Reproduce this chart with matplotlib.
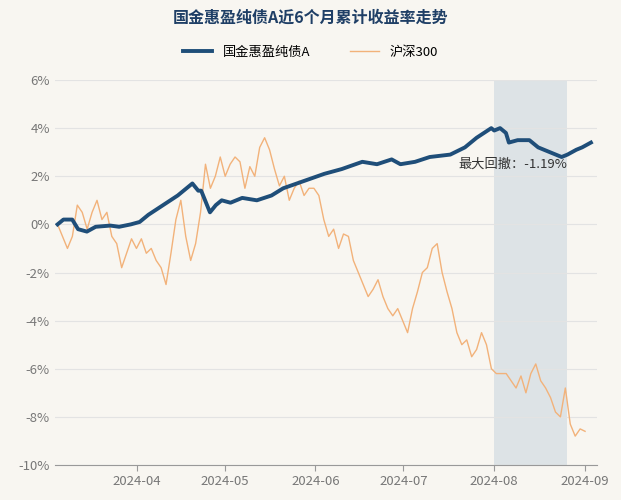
import matplotlib.pyplot as plt
import matplotlib.dates as mdates
import pandas as pd

plt.rcParams["font.family"] = ["Noto Sans CJK SC", "DejaVu Sans"]

fund_dates = ["2024-03-05", "2024-03-07", "2024-03-10", "2024-03-12", "2024-03-15", "2024-03-18",
              "2024-03-23", "2024-03-26", "2024-03-30", "2024-04-02", "2024-04-05", "2024-04-10",
              "2024-04-15", "2024-04-20", "2024-04-22", "2024-04-23", "2024-04-26", "2024-04-28",
              "2024-04-30", "2024-05-03", "2024-05-07", "2024-05-12", "2024-05-17", "2024-05-21",
              "2024-05-28", "2024-06-04", "2024-06-10", "2024-06-17", "2024-06-22", "2024-06-27",
              "2024-06-30", "2024-07-05", "2024-07-10", "2024-07-17", "2024-07-22", "2024-07-26",
              "2024-07-31", "2024-08-01", "2024-08-03", "2024-08-05", "2024-08-06", "2024-08-09",
              "2024-08-13", "2024-08-16", "2024-08-20", "2024-08-24", "2024-08-26", "2024-08-29",
              "2024-08-31", "2024-09-03"]
fund = [0.0, 0.2, 0.2, -0.2, -0.3, -0.1, -0.05, -0.1, 0.0, 0.1, 0.4, 0.8, 1.2, 1.7, 1.4, 1.4,
        0.5, 0.8, 1.0, 0.9, 1.1, 1.0, 1.2, 1.5, 1.8, 2.1, 2.3, 2.6, 2.5, 2.7, 2.5, 2.6, 2.8, 2.9,
        3.2, 3.6, 4.0, 3.9, 4.0, 3.8, 3.4, 3.5, 3.5, 3.2, 3.0, 2.8, 2.9, 3.1, 3.2, 3.4]

csi300 = [0, -0.5, -1.0, -0.5, 0.8, 0.5, -0.2, 0.5, 1.0, 0.2, 0.5, -0.5, -0.8, -1.8, -1.2, -0.6,
          -1.0, -0.6, -1.2, -1.0, -1.5, -1.8, -2.5, -1.2, 0.2, 1.0, -0.5, -1.5, -0.8, 0.5, 2.5, 1.5,
          2.0, 2.8, 2.0, 2.5, 2.8, 2.6, 1.5, 2.4, 2.0, 3.2, 3.6, 3.1, 2.3, 1.6, 2.0, 1.0, 1.5, 1.8,
          1.2, 1.5, 1.5, 1.2, 0.2, -0.5, -0.2, -1.0, -0.4, -0.5, -1.5, -2.0, -2.5, -3.0, -2.7, -2.3,
          -3.0, -3.5, -3.8, -3.5, -4.0, -4.5, -3.5, -2.8, -2.0, -1.8, -1.0, -0.8, -2.0, -2.8, -3.5,
          -4.5, -5.0, -4.8, -5.5, -5.2, -4.5, -5.0, -6.0, -6.2, -6.2, -6.2, -6.5, -6.8, -6.3, -7.0,
          -6.2, -5.8, -6.5, -6.8, -7.2, -7.8, -8.0, -6.8, -8.3, -8.8, -8.5, -8.6]
csi_dates = pd.date_range("2024-03-05", "2024-09-01", periods=len(csi300))

dd_start, dd_end = "2024-08-01", "2024-08-26"
dd_label = "最大回撤：-1.19%"
yticks = [6, 4, 2, 0, -2, -4, -6, -8, -10]
bg = "#f8f6f1"

fig = plt.figure(figsize=(6.21, 5.0), dpi=100, facecolor=bg)
ax = fig.add_axes([0.088, 0.07, 0.873, 0.77], facecolor=bg)

ax.axvspan(pd.Timestamp(dd_start), pd.Timestamp(dd_end), color="#dde3e6", lw=0)
l2, = ax.plot(csi_dates, csi300, color="#f2b27a", lw=1.0, label="沪深300", zorder=2)
l1, = ax.plot(pd.to_datetime(fund_dates), fund, color="#1f4e79", lw=2.8, label="国金惠盈纯债A", zorder=3)
ax.text(pd.Timestamp("2024-08-26"), 2.25, dd_label, ha="right", va="bottom", fontsize=9.5, color="#333333")

ax.set_ylim(-10, 6)
ax.set_xlim(pd.Timestamp("2024-03-04"), pd.Timestamp("2024-09-05"))
ax.set_yticks(yticks)
ax.set_yticklabels([f"{v}%" for v in yticks])
ax.xaxis.set_major_locator(mdates.MonthLocator(bymonth=[4, 5, 6, 7, 8, 9]))
ax.xaxis.set_major_formatter(mdates.DateFormatter("%Y-%m"))
ax.grid(axis="y", color="#e3e3e3", lw=0.8)
ax.tick_params(colors="#777777", labelsize=9.5, length=0)
ax.tick_params(axis="x", length=4, color="#999999")
for s in ["top", "right", "left"]:
    ax.spines[s].set_visible(False)
ax.spines["bottom"].set_color("#999999")

fig.text(0.5, 0.965, "国金惠盈纯债A近6个月累计收益率走势", ha="center", va="center",
         fontsize=11.5, fontweight="bold", color="#1f3f66")
fig.legend(handles=[l1, l2], loc="center", bbox_to_anchor=(0.5, 0.895), ncol=2, frameon=False,
           fontsize=9.5, handlelength=2.2, columnspacing=3)
fig.savefig("out.png", facecolor=bg)
